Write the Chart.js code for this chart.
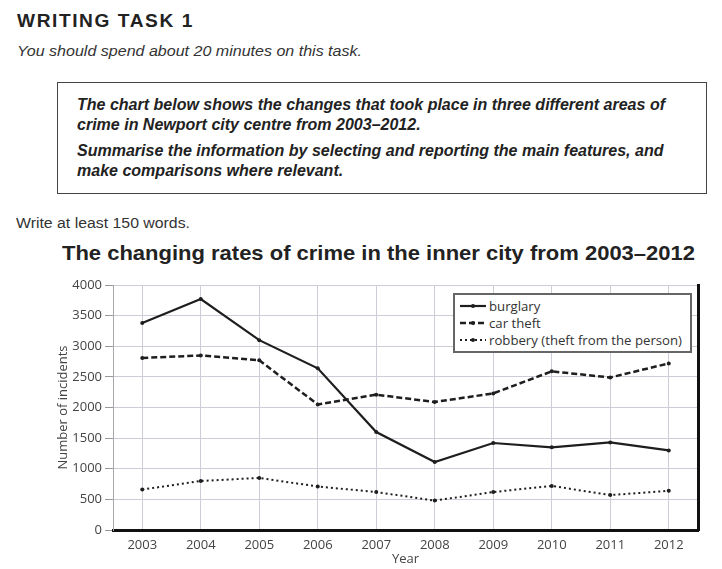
<!DOCTYPE html>
<html>
<head>
<meta charset="utf-8">
<script src="https://cdn.jsdelivr.net/npm/chart.js@4"></script>
<style>
  html, body { margin: 0; padding: 0; background: #fff; }
  body { width: 722px; height: 569px; position: relative; overflow: hidden; font-family: "Liberation Sans", Arial, sans-serif; color: #222; }
  .t { position: absolute; white-space: nowrap; line-height: 1; transform-origin: 0 0; }
  #task { left: 17px; top: 11.5px; font-size: 18px; font-weight: bold; letter-spacing: 1.5px; }
  #spend { left: 17px; top: 43.3px; font-size: 15px; font-style: italic; color: #333; }
  #box { position: absolute; left: 57px; top: 82px; width: 648px; height: 110px; border: 1.5px solid #444; }
  .bl { left: 77px; font-size: 16px; font-weight: bold; font-style: italic; }
  #write { left: 16px; top: 215px; font-size: 15.5px; color: #333; }
  #title { left: 62px; top: 242px; font-size: 21px; font-weight: bold; }
  #chartWrap { position: absolute; left: 0; top: 268px; width: 722px; height: 301px; }
  #legend { position: absolute; left: 453px; top: 293px; width: 235px; height: 56px; border: 2px solid #666; background: #fff;
            font-family: "Open Sans", sans-serif; font-size: 13.2px; color: #333; }
  .li { position: absolute; left: 5px; height: 16px; line-height: 16px; white-space: nowrap; }
  .li svg { vertical-align: middle; margin-right: 3px; margin-top: -2px; }
</style>
</head>
<body>
<div class="t" id="task" data-w="177">WRITING TASK 1</div>
<div class="t" id="spend" data-w="345">You should spend about 20 minutes on this task.</div>
<div id="box"></div>
<div class="t bl" id="b1" style="top:96.5px" data-w="588">The chart below shows the changes that took place in three different areas of</div>
<div class="t bl" style="top:116.5px" data-ref="b1">crime in Newport city centre from 2003–2012.</div>
<div class="t bl" style="top:142.5px" data-ref="b1">Summarise the information by selecting and reporting the main features, and</div>
<div class="t bl" style="top:162.5px" data-ref="b1">make comparisons where relevant.</div>
<div class="t" id="write" data-w="174">Write at least 150 words.</div>
<div class="t" id="title" data-w="633">The changing rates of crime in the inner city from 2003–2012</div>

<div id="chartWrap"><canvas id="crimeChart" width="722" height="301"></canvas></div>
<div id="legend"></div>

<script>
// data
const years = ['2003', '2004', '2005', '2006', '2007', '2008', '2009', '2010', '2011', '2012'];
const burglary = [3380, 3770, 3100, 2640, 1600, 1110, 1420, 1350, 1430, 1300];
const carTheft = [2810, 2850, 2770, 2050, 2210, 2090, 2230, 2590, 2490, 2720];
const robbery = [660, 800, 850, 710, 620, 480, 620, 720, 570, 640];
const seriesNames = ['burglary', 'car theft', 'robbery (theft from the person)'];
const yMin = 0, yMax = 4000, yStep = 500;

const dashes = [[], [6, 3], [2, 3]];
const widths = [2.2, 2.5, 2];
const ink = '#1e1e1e';
const tickFont = { family: 'Open Sans', size: 13 };

// squeeze header texts to the widths seen in the picture
function fitTexts() {
  const scales = {};
  document.querySelectorAll('[data-w]').forEach(el => {
    const w = el.getBoundingClientRect().width;
    const s = el.dataset.w / w;
    scales[el.id] = s;
    el.style.transform = 'scaleX(' + s + ')';
  });
  document.querySelectorAll('[data-ref]').forEach(el => {
    el.style.transform = 'scaleX(' + scales[el.dataset.ref] + ')';
  });
}

function buildLegend() {
  const legend = document.getElementById('legend');
  const rowTops = [3, 20, 37];
  seriesNames.forEach((name, i) => {
    const row = document.createElement('div');
    row.className = 'li';
    row.style.top = rowTops[i] + 'px';
    const dash = dashes[i].length ? 'stroke-dasharray="' + dashes[i].join(' ') + '"' : '';
    row.innerHTML = '<svg width="26" height="8"><line x1="0" y1="4" x2="26" y2="4" stroke="' + ink +
      '" stroke-width="' + widths[i] + '" ' + dash + '/><circle cx="13" cy="4" r="2" fill="' + ink + '"/></svg>' + name;
    legend.appendChild(row);
  });
}

function drawChart() {
  const series = [burglary, carTheft, robbery];
  new Chart(document.getElementById('crimeChart'), {
    type: 'line',
    data: {
      labels: years,
      datasets: series.map((values, i) => ({
        label: seriesNames[i],
        data: values,
        borderColor: ink,
        backgroundColor: ink,
        borderWidth: widths[i],
        borderDash: dashes[i],
        pointRadius: 2,
        pointBorderWidth: 0,
        pointBackgroundColor: ink,
        tension: 0,
        fill: false
      }))
    },
    options: {
      responsive: false,
      animation: false,
      events: [],
      layout: { padding: { top: 17, right: 24, left: 0, bottom: 0 } },
      plugins: { legend: { display: false }, title: { display: false }, tooltip: { enabled: false } },
      scales: {
        x: {
          type: 'category',
          offset: true,
          grid: { offset: false, color: '#cdcdd8', lineWidth: 1, drawTicks: false },
          border: { color: '#111', width: 3 },
          ticks: { color: '#444', font: tickFont, padding: 7, maxRotation: 0 },
          title: { display: true, text: 'Year', color: '#444', font: tickFont, padding: { top: 0, bottom: 2 } },
          afterFit: s => { s.height = 39; }
        },
        y: {
          min: yMin,
          max: yMax,
          ticks: { stepSize: yStep, color: '#444', font: tickFont, padding: 3, callback: v => String(v) },
          grid: { color: '#cdcdd8', lineWidth: 1, tickLength: 8, tickColor: '#999' },
          border: { color: '#aaa', width: 1 },
          title: { display: true, text: 'Number of incidents', color: '#444', font: tickFont, padding: { top: 55, bottom: 0 } },
          afterFit: s => { s.width = 113; }
        },
        yRight: {
          position: 'right',
          min: yMin,
          max: yMax,
          ticks: { display: false },
          grid: { drawOnChartArea: false, drawTicks: false },
          border: { color: '#111', width: 3 },
          afterFit: s => { s.width = 0; }
        }
      }
    }
  });
}

document.fonts.ready.then(() => {
  fitTexts();
  buildLegend();
  drawChart();
});
</script>
</body>
</html>
